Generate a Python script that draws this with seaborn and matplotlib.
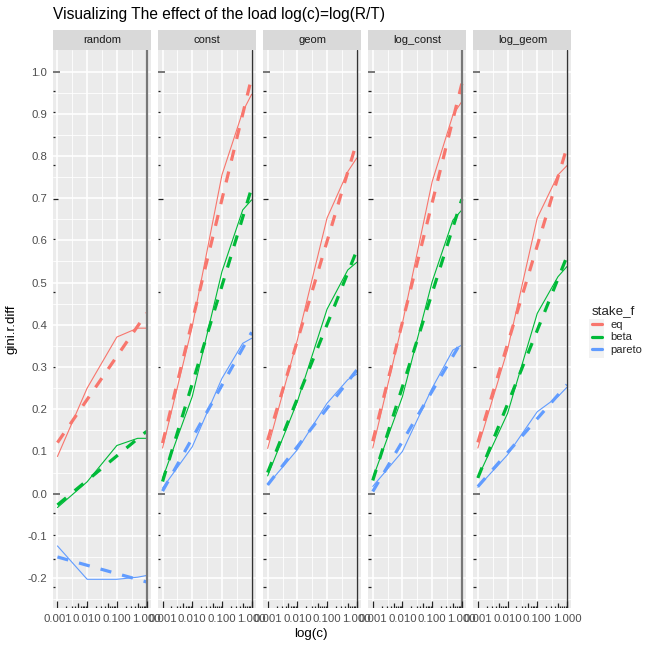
import numpy as np
import pandas as pd
import matplotlib
matplotlib.use("Agg")
import matplotlib.pyplot as plt
import seaborn as sns
from matplotlib.transforms import blended_transform_factory
from matplotlib.lines import Line2D
from matplotlib.patches import Rectangle
from matplotlib.ticker import FixedLocator, FixedFormatter, NullFormatter

# ---------------- data ----------------
facets = ["random", "const", "geom", "log_const", "log_geom"]
stakes = ["eq", "beta", "pareto"]
c_vals = [0.001, 0.01, 0.1, 0.5, 1.0]

random_eq = [0.088, 0.250, 0.371, 0.392, 0.392]
random_beta = [-0.033, 0.028, 0.114, 0.131, 0.131]
random_pareto = [-0.124, -0.203, -0.203, -0.198, -0.194]
const_eq = [0.108, 0.396, 0.755, 0.905, 0.946]
const_beta = [0.036, 0.230, 0.526, 0.672, 0.696]
const_pareto = [0.013, 0.111, 0.273, 0.356, 0.368]
geom_eq = [0.107, 0.364, 0.653, 0.763, 0.795]
geom_beta = [0.042, 0.218, 0.437, 0.530, 0.548]
geom_pareto = [0.021, 0.104, 0.214, 0.270, 0.283]
log_const_eq = [0.108, 0.404, 0.739, 0.897, 0.929]
log_const_beta = [0.036, 0.230, 0.502, 0.648, 0.672]
log_const_pareto = [0.017, 0.100, 0.250, 0.340, 0.352]
log_geom_eq = [0.108, 0.341, 0.653, 0.755, 0.777]
log_geom_beta = [0.038, 0.190, 0.427, 0.514, 0.538]
log_geom_pareto = [0.015, 0.092, 0.194, 0.230, 0.252]

series = {
    ("random", "eq"): random_eq, ("random", "beta"): random_beta, ("random", "pareto"): random_pareto,
    ("const", "eq"): const_eq, ("const", "beta"): const_beta, ("const", "pareto"): const_pareto,
    ("geom", "eq"): geom_eq, ("geom", "beta"): geom_beta, ("geom", "pareto"): geom_pareto,
    ("log_const", "eq"): log_const_eq, ("log_const", "beta"): log_const_beta, ("log_const", "pareto"): log_const_pareto,
    ("log_geom", "eq"): log_geom_eq, ("log_geom", "beta"): log_geom_beta, ("log_geom", "pareto"): log_geom_pareto,
}

x_tick_vals = [0.001, 0.01, 0.1, 1.0]
x_tick_labels = ["0.001", "0.010", "0.100", "1.000"]
y_tick_vals = [-0.2, -0.1, 0.0, 0.1, 0.2, 0.3, 0.4, 0.5, 0.6, 0.7, 0.8, 0.9, 1.0]
y_tick_labels = ["-0.2", "-0.1", "0.0", "0.1", "0.2", "0.3", "0.4", "0.5", "0.6", "0.7", "0.8", "0.9", "1.0"]

rows = []
for (f, s), vals in series.items():
    for c, v in zip(c_vals, vals):
        rows.append({"facet": f, "stake_f": s, "c": c, "gini.r.diff": v})
df = pd.DataFrame(rows)

palette = {"eq": "#F8766D", "beta": "#00BA38", "pareto": "#619CFF"}

# ---------------- style ----------------
sns.set_theme(style="darkgrid")
plt.rcParams["font.family"] = ["Liberation Sans", "DejaVu Sans"]
plt.rcParams["axes.facecolor"] = "#EBEBEB"

W, H = 651, 645
fig = plt.figure(figsize=(W / 100, H / 100), dpi=100)
fig.patch.set_facecolor("white")

def fx(px):
    return px / W

def fy(px):
    return 1 - px / H

panel_left = [53, 158.1, 263.2, 368.3, 473.4]
panel_w = 98
panel_top, panel_bot = 50, 608
strip_top = 29.5

ylim = (-0.271, 1.051)
xlim = (10 ** -3.15, 10 ** 0.15)

tick_col = "#333333"
lab_col = "#4D4D4D"
tick_fs = 8.2

for i, f in enumerate(facets):
    ax = fig.add_axes([fx(panel_left[i]), fy(panel_bot), fx(panel_w), (panel_bot - panel_top) / H])
    ax.set_xscale("log")
    sub = df[df.facet == f]
    sns.lineplot(data=sub, x="c", y="gini.r.diff", hue="stake_f", hue_order=stakes,
                 palette=palette, estimator=None, lw=0.8, ax=ax, legend=False)
    for s in stakes:
        sns.regplot(data=sub[sub.stake_f == s], x="c", y="gini.r.diff", logx=True, ci=None,
                    scatter=False, truncate=True, ax=ax,
                    line_kws=dict(color=palette[s], lw=2.3, ls=(0, (3.5, 3.5)), solid_capstyle="butt",
                                  dash_capstyle="butt"))
    vcol = "#777777" if i in (0, 3) else "#333333"
    vlw = 1.6 if i in (0, 3) else 1.0
    ax.axvline(1.0, color=vcol, lw=vlw, zorder=5)

    ax.set_xlim(*xlim)
    ax.set_ylim(*ylim)
    ax.xaxis.set_major_locator(FixedLocator(x_tick_vals))
    ax.xaxis.set_minor_locator(FixedLocator([10 ** -2.5, 10 ** -1.5, 10 ** -0.5]))
    ax.xaxis.set_major_formatter(FixedFormatter(x_tick_labels))
    ax.xaxis.set_minor_formatter(NullFormatter())
    ax.yaxis.set_major_locator(FixedLocator(y_tick_vals))
    ax.yaxis.set_minor_locator(FixedLocator([-0.25, -0.15, -0.05, 0.05, 0.15, 0.25, 0.35, 0.45,
                                             0.55, 0.65, 0.75, 0.85, 0.95]))
    ax.grid(which="major", color="white", lw=1.2)
    ax.grid(which="minor", color="white", lw=0.6)
    ax.tick_params(which="minor", length=0)
    ax.tick_params(which="major", axis="x", length=2.3, width=1.0, color=tick_col,
                   labelsize=tick_fs, labelcolor=lab_col, pad=2)
    if i == 0:
        ax.yaxis.set_major_formatter(FixedFormatter(y_tick_labels))
        ax.tick_params(which="major", axis="y", length=2.3, width=1.0, color=tick_col,
                       labelsize=tick_fs, labelcolor=lab_col, pad=2)
    else:
        ax.tick_params(which="major", axis="y", length=0, labelleft=False)
    ax.set_xlabel("")
    ax.set_ylabel("")
    for sp in ax.spines.values():
        sp.set_visible(False)

    # log ticks (annotation_logticks style)
    tr_left = blended_transform_factory(ax.transAxes, ax.transData)
    tr_bot = blended_transform_factory(ax.transData, ax.transAxes)
    L_long, L_mid, L_short = 7.0, 4.6, 2.3
    for d in [-3, -2, -1, 0]:
        ks = range(1, 10) if d < 0 else [1]
        for k in ks:
            xv = k * 10.0 ** d
            L = L_long if k == 1 else (L_mid if k == 5 else L_short)
            ax.plot([xv, xv], [0, L / (panel_bot - panel_top)], color="#222222", lw=0.9,
                    transform=tr_bot, zorder=6, solid_capstyle="butt")
    for k in range(1, 11):
        for yv in (np.log10(k), np.log10(k / 10.0)):
            if ylim[0] <= yv <= ylim[1]:
                L = L_long if k in (1, 10) else (L_mid if k == 5 else L_short)
                lc = "#777777" if k in (1, 10) else "#222222"
                llw = 1.4 if k in (1, 10) else 0.9
                ax.plot([0, L / panel_w], [yv, yv], color=lc, lw=llw,
                        transform=tr_left, zorder=6, solid_capstyle="butt")

    # strip
    sax = fig.add_axes([fx(panel_left[i]), fy(panel_top), fx(panel_w), (panel_top - strip_top) / H])
    sax.set_facecolor("#D9D9D9")
    sax.set_xticks([])
    sax.set_yticks([])
    for sp in sax.spines.values():
        sp.set_visible(False)
    sax.text(0.5, 0.5, f, ha="center", va="center", fontsize=8.0, color="#1A1A1A",
             transform=sax.transAxes)

# titles
fig.text(fx(53), fy(14), "Visualizing The effect of the load log(c)=log(R/T)", fontsize=11.2,
         color="black", ha="left", va="center")
fig.text(fx(311), fy(634), "log(c)", fontsize=9.6, ha="center", va="center", color="black")
fig.text(fx(11), fy(329), "gini.r.diff", fontsize=9.6, ha="center", va="center", rotation=90,
         color="black")

# legend
fig.patches.append(Rectangle((fx(589), fy(358)), fx(14.5), 39 / H, transform=fig.transFigure,
                             facecolor="#F2F2F2", edgecolor="none", zorder=0))
handles = [Line2D([0], [0], color=palette[s], lw=2.3) for s in stakes]
leg = fig.legend(handles, stakes, title="stake_f", loc="upper left",
                 bbox_to_anchor=(fx(583), fy(296)), frameon=False, fontsize=8.0,
                 title_fontsize=9.6, handlelength=0.9, handletextpad=0.75,
                 labelspacing=0.25, borderpad=0.3)
leg._legend_box.align = "left"

fig.savefig("out.png", dpi=100)
